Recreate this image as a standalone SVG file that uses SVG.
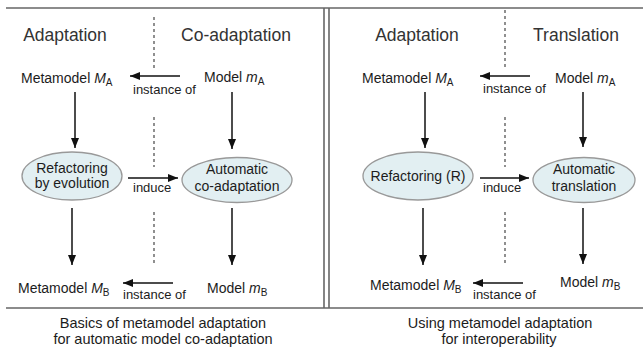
<svg xmlns="http://www.w3.org/2000/svg" width="643" height="351" viewBox="0 0 643 351">
<defs>
<marker id="ah" viewBox="0 0 10 8" refX="10" refY="4" markerWidth="10" markerHeight="8" markerUnits="userSpaceOnUse" orient="auto">
<path d="M0,0 L10,4 L0,8 Z" fill="#111"/>
</marker>
<style>
text{font-family:"Liberation Sans",Arial,sans-serif;fill:#1c1c1c}
.h{font-size:17.5px;fill:#333}
.n{font-size:14px}
.e{font-size:13px}
.c{font-size:14.5px}
.i{font-style:italic}
.s{font-size:10px}
.frame{stroke:#666;stroke-width:1.6;fill:none}
.dash{stroke:#555;stroke-width:1.3;stroke-dasharray:3 3;fill:none}
.ar{stroke:#111;stroke-width:1.5;fill:none;marker-end:url(#ah)}
.ell{fill:#e2eff2;stroke:#999;stroke-width:1.3}
</style>
</defs>
<g id="frame">
<line class="frame" x1="6" y1="8" x2="643" y2="8"/>
<line class="frame" x1="6" y1="308" x2="643" y2="308"/>
<line class="frame" x1="324" y1="8" x2="324" y2="308"/>
<line class="frame" x1="329" y1="8" x2="329" y2="308"/>
<line class="dash" x1="154" y1="17" x2="154" y2="68"/>
<line class="dash" x1="154" y1="117" x2="154" y2="167"/>
<line class="dash" x1="154" y1="212" x2="154" y2="263"/>
<line class="dash" x1="505" y1="10" x2="505" y2="68"/>
<line class="dash" x1="505" y1="117" x2="505" y2="167"/>
<line class="dash" x1="505" y1="212" x2="505" y2="263"/>
</g>
<g id="headers">
<text class="h" x="65" y="41" text-anchor="middle">Adaptation</text>
<text class="h" x="236" y="41" text-anchor="middle">Co-adaptation</text>
<text class="h" x="417" y="41" text-anchor="middle">Adaptation</text>
<text class="h" x="576" y="41" text-anchor="middle">Translation</text>
</g>
<g id="connectors">
<line class="ar" x1="180" y1="76" x2="130" y2="76"/>
<line class="ar" x1="75" y1="92" x2="75" y2="148"/>
<line class="ar" x1="232" y1="92" x2="232" y2="149"/>
<line class="ar" x1="128" y1="178" x2="178" y2="178"/>
<line class="ar" x1="72" y1="208" x2="72" y2="265"/>
<line class="ar" x1="232" y1="208" x2="232" y2="265"/>
<line class="ar" x1="173" y1="283" x2="123" y2="283"/>
<line class="ar" x1="530" y1="76" x2="480" y2="76"/>
<line class="ar" x1="425" y1="92" x2="425" y2="148"/>
<line class="ar" x1="583" y1="92" x2="583" y2="147"/>
<line class="ar" x1="480" y1="178" x2="529" y2="178"/>
<line class="ar" x1="423" y1="208" x2="423" y2="265"/>
<line class="ar" x1="583" y1="208" x2="583" y2="264"/>
<line class="ar" x1="523" y1="283" x2="473" y2="283"/>
<text class="e" x="133" y="94">instance of</text>
<text class="e" x="133" y="192">induce</text>
<text class="e" x="123" y="299">instance of</text>
<text class="e" x="483" y="93">instance of</text>
<text class="e" x="483" y="192">induce</text>
<text class="e" x="473" y="299">instance of</text>
</g>
<g id="metaA-left"><text class="n" x="21" y="83">Metamodel <tspan class="i">M</tspan><tspan class="s" dy="3">A</tspan></text></g>
<g id="modelA-left"><text class="n" x="204" y="82">Model <tspan class="i">m</tspan><tspan class="s" dy="3">A</tspan></text></g>
<g id="refactor-left">
<ellipse class="ell" cx="72" cy="176" rx="50" ry="24"/>
<text class="n" x="72" y="172.5" text-anchor="middle">Refactoring</text>
<text class="n" x="72" y="188" text-anchor="middle">by evolution</text>
</g>
<g id="coadapt">
<ellipse class="ell" cx="237" cy="180" rx="55" ry="22.5"/>
<text class="n" x="237" y="174" text-anchor="middle">Automatic</text>
<text class="n" x="237" y="191" text-anchor="middle">co-adaptation</text>
</g>
<g id="metaB-left"><text class="n" x="18" y="292.5">Metamodel <tspan class="i">M</tspan><tspan class="s" dy="3">B</tspan></text></g>
<g id="modelB-left"><text class="n" x="207" y="293">Model <tspan class="i">m</tspan><tspan class="s" dy="3">B</tspan></text></g>
<g id="metaA-right"><text class="n" x="362" y="82.5">Metamodel <tspan class="i">M</tspan><tspan class="s" dy="3">A</tspan></text></g>
<g id="modelA-right"><text class="n" x="555" y="82.5">Model <tspan class="i">m</tspan><tspan class="s" dy="3">A</tspan></text></g>
<g id="refactor-right">
<ellipse class="ell" cx="418" cy="176" rx="55" ry="24"/>
<text class="n" x="418" y="181" text-anchor="middle">Refactoring (R)</text>
</g>
<g id="translate">
<ellipse class="ell" cx="584" cy="180" rx="51" ry="22.5"/>
<text class="n" x="584" y="174" text-anchor="middle">Automatic</text>
<text class="n" x="584" y="191" text-anchor="middle">translation</text>
</g>
<g id="metaB-right"><text class="n" x="370" y="290">Metamodel <tspan class="i">M</tspan><tspan class="s" dy="3">B</tspan></text></g>
<g id="modelB-right"><text class="n" x="560" y="287">Model <tspan class="i">m</tspan><tspan class="s" dy="3">B</tspan></text></g>
<g id="captions">
<text class="c" x="163" y="328" text-anchor="middle">Basics of metamodel adaptation</text>
<text class="c" x="163" y="344" text-anchor="middle">for automatic model co-adaptation</text>
<text class="c" x="500" y="328" text-anchor="middle">Using metamodel adaptation</text>
<text class="c" x="499" y="344" text-anchor="middle">for interoperability</text>
</g>
</svg>
